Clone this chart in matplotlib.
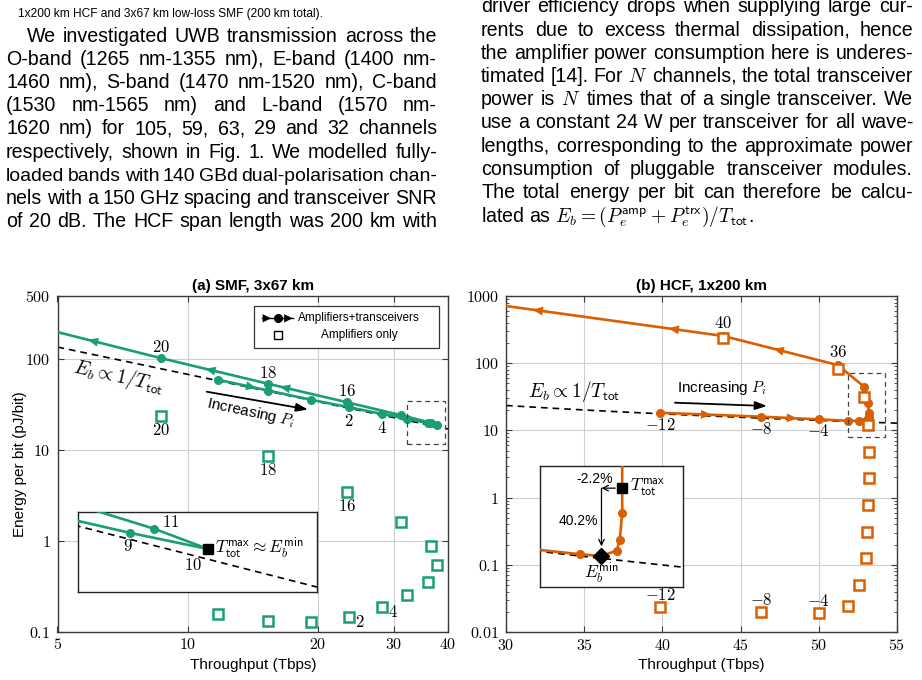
import numpy as np
import matplotlib
matplotlib.use('Agg')
import matplotlib.pyplot as plt
from matplotlib.patches import Rectangle
from matplotlib.ticker import FixedLocator, NullLocator, NullFormatter, FuncFormatter, LogLocator

plt.rcParams['font.family'] = ['Liberation Sans', 'DejaVu Sans']
plt.rcParams['mathtext.fontset'] = 'cm'

W, H = 922, 680

green = '#1b9e77'
orange = '#d95f02'
gridc = '#cfcfcf'
axc = '#3a3a3a'

# ---------------- data ----------------
# (a) SMF, 3x67 km : launch power P_i (dBm), throughput (Tbps), energy per bit (pJ/bit)
smf_p = [-4, -2, 0, 2, 4, 6, 8, 10, 12, 14, 16, 18, 20]
smf_t = [11.75, 15.34, 19.3, 23.6, 28.1, 32.2, 35.9, 37.8, 36.5, 31.2, 23.35, 15.34, 8.66]
smf_e_total = [59.7, 45.4, 35.9, 29.7, 25.1, 22.2, 19.8, 19.0, 20.0, 24.2, 33.7, 53.9, 103.4]
smf_e_amp = [0.155, 0.1305, 0.128, 0.146, 0.187, 0.251, 0.355, 0.539, 0.881, 1.63, 3.48, 8.55, 23.6]
smf_t_edge, smf_e_edge = 5.0, 200.0      # curve leaves the plot here
smf_fit = 684                              # E_b = c / T_tot guide

# (b) HCF, 1x200 km
hcf_p = [-12, -8, -4, 0, 4, 8, 12, 16, 20, 24, 28, 32, 36, 40]
hcf_t = [39.85, 46.3, 50.0, 51.85, 52.6, 53.0, 53.1, 53.17, 53.2, 53.2, 53.15, 52.9, 51.2, 43.9]
hcf_e_total = [18.3, 16.0, 14.6, 13.9, 13.9, 13.9, 14.1, 14.6, 16.0, 18.3, 25.8, 44.7, 94.0, 254.0]
hcf_e_amp = [0.0233, 0.0200, 0.0189, 0.0246, 0.050, 0.125, 0.305, 0.776, 1.94, 4.82, 12.0, 31.1, 81.0, 237.0]
hcf_t_edge, hcf_e_edge = 30.0, 710.0
hcf_fit = 705

# point labels
smf_dot_above = [16, 18, 20]
smf_dot_below = [2, 4]
smf_sq_below = [16, 18, 20]
smf_sq_right = [2, 4]
hcf_dot_above = [36, 40]
hcf_dot_below = [-12, -8, -4]
hcf_sq_above = [-12, -8, -4]

# zoomed views
smf_box_x, smf_box_y = (32.1, 39.3), (11.8, 34.4)
smf_zoom_x, smf_zoom_y = (32.28, 43.13), (15.49, 22.66)
smf_zoom_low_t = [32.0, 34.38, 37.8]      # P_i = 8, 9, 10
smf_zoom_low_e = [21.89, 20.52, 19.0]
smf_zoom_up_t = [37.8, 35.41, 32.0]       # P_i = 10, 11, 12
smf_zoom_up_e = [19.0, 20.92, 23.65]

hcf_box_x, hcf_box_y = (51.89, 54.23), (8.06, 70.8)
hcf_zoom_x, hcf_zoom_y = (50.82, 54.96), (11.62, 21.24)
hcf_zoom_t = [50.5, 51.98, 52.60, 53.04, 53.13, 53.20, 53.20, 53.20]
hcf_zoom_e = [14.06, 13.68, 13.56, 13.93, 14.69, 16.84, 19.02, 23.0]
hcf_zoom_dots = [1, 3, 4, 5]
hcf_zoom_emin = 2
hcf_zoom_tmax = 6

left_lines = [
    "We investigated UWB transmission across the",
    "O-band (1265 nm-1355 nm), E-band (1400 nm-",
    "1460 nm), S-band (1470 nm-1520 nm), C-band",
    "(1530 nm-1565 nm) and L-band (1570 nm-",
    "1620 nm) for 105, 59, 63, 29 and 32 channels",
    "respectively, shown in Fig. 1. We modelled fully-",
    "loaded bands with 140 GBd dual-polarisation chan-",
    "nels with a 150 GHz spacing and transceiver SNR",
    "of 20 dB. The HCF span length was 200 km with",
]
right_lines = [
    "driver efficiency drops when supplying large cur-",
    "rents due to excess thermal dissipation, hence",
    "the amplifier power consumption here is underes-",
    "timated [14]. For $N$ channels, the total transceiver",
    "power is $N$ times that of a single transceiver. We",
    "use a constant 24 W per transceiver for all wave-",
    "lengths, corresponding to the approximate power",
    "consumption of pluggable transceiver modules.",
    "The total energy per bit can therefore be calcu-",
    r"lated as $E_b = (P_e^{\mathsf{amp}} + P_e^{\mathsf{trx}})/T_{\mathsf{tot}}$.",
]
caption = "1x200 km HCF and 3x67 km low-loss SMF (200 km total)."

# ---------------- figure ----------------
fig = plt.figure(figsize=(W / 100, H / 100), dpi=100)
renderer = fig.canvas.get_renderer()


def px_axes(x0, y0, x1, y1, **kw):
    return fig.add_axes([x0 / W, 1 - y1 / H, (x1 - x0) / W, (y1 - y0) / H], **kw)


def fp(x, y):
    return (x / W, 1 - y / H)


def to_axes(ax, x, y):
    return ax.transAxes.inverted().transform((x, H - y))


def style(ax):
    ax.set_axisbelow(True)
    ax.grid(True, which='major', color=gridc, lw=0.8)
    for s in ax.spines.values():
        s.set_color(axc)
        s.set_linewidth(1.0)
    ax.tick_params(which='both', direction='in', top=True, right=True, color=axc, labelsize=11.5)
    ax.tick_params(which='major', length=4)
    ax.tick_params(which='minor', length=2.5)
    ax.tick_params(axis='x', pad=4)
    ax.tick_params(axis='y', pad=5)
    fmt = FuncFormatter(lambda v, p: f'${v:g}$')
    ax.xaxis.set_major_formatter(fmt)
    ax.yaxis.set_major_formatter(fmt)
    ax.set_xlabel('Throughput (Tbps)', fontsize=11, labelpad=4)


def bare(ax):
    for a in (ax.xaxis, ax.yaxis):
        a.set_major_locator(NullLocator())
        a.set_minor_locator(NullLocator())
    for s in ax.spines.values():
        s.set_color('#222222')
        s.set_linewidth(1.0)


def flow_arrow(ax, xa, ya, xb, yb, frac, color):
    pa = ax.transData.transform((xa, ya))
    pb = ax.transData.transform((xb, yb))
    d = pb - pa
    d = d / np.hypot(*d)
    p = pa + frac * (pb - pa)
    inv = ax.transData.inverted()
    ax.annotate('', xy=inv.transform(p + 5 * d), xytext=inv.transform(p - 5 * d),
                arrowprops=dict(arrowstyle='-|>,head_length=0.75,head_width=0.32', color=color,
                                lw=0.01, shrinkA=0, shrinkB=0), zorder=4)


def tag(ax, x, y, s, dx, dy, size=12, **kw):
    kw.setdefault('ha', 'center')
    ax.annotate(s, (x, y), xytext=(dx, dy), textcoords='offset pixels', va='center',
                fontsize=size, zorder=5, **kw)


def num(v):
    return f'${v}$'


# ---------- (a) SMF ----------
ax1 = px_axes(57.5, 296, 448, 631.5)
ax1.set_xscale('log')
ax1.set_yscale('log')
ax1.set_xlim(5, 40)
ax1.set_ylim(0.1, 500)
ax1.xaxis.set_major_locator(FixedLocator([5, 10, 20, 30, 40]))
ax1.yaxis.set_major_locator(FixedLocator([0.1, 1, 10, 100, 500]))
for a in (ax1.xaxis, ax1.yaxis):
    a.set_minor_locator(NullLocator())
style(ax1)
ax1.set_ylabel('Energy per bit (pJ/bit)', fontsize=11, labelpad=-1)
ax1.set_title('(a) SMF, 3x67 km', fontsize=11, fontweight='bold', pad=4)

ax1.plot([5, 40], [smf_fit / 5, smf_fit / 40], color='black', lw=1.2, ls=(0, (4, 3)), zorder=2)
ax1.plot(smf_t + [smf_t_edge], smf_e_total + [smf_e_edge], color=green, lw=1.9, marker='o', ms=5.5,
         markevery=list(range(len(smf_t))), zorder=3)
ax1.plot(smf_t, smf_e_amp, ls='none', marker='s', ms=6.5, mfc='white', mec=green, mew=1.8, zorder=3)

bx, by = smf_box_x, smf_box_y
ax1.plot([bx[0], bx[1], bx[1], bx[0], bx[0]], [by[0], by[0], by[1], by[1], by[0]],
         color='#444444', lw=0.9, ls=(0, (4, 3)), zorder=4)

ct = smf_t + [smf_t_edge]
ce = smf_e_total + [smf_e_edge]
for i, f in [(0, 0.67), (10, 0.79), (11, 0.54), (12, 0.66)]:
    flow_arrow(ax1, ct[i], ce[i], ct[i + 1], ce[i + 1], f, green)

for p in smf_dot_above:
    i = smf_p.index(p)
    tag(ax1, smf_t[i], smf_e_total[i], num(p), 0, 11)
for p in smf_dot_below:
    i = smf_p.index(p)
    tag(ax1, smf_t[i], smf_e_total[i], num(p), 0, -14)
for p in smf_sq_below:
    i = smf_p.index(p)
    tag(ax1, smf_t[i], smf_e_amp[i], num(p), 0, -14)
for p in smf_sq_right:
    i = smf_p.index(p)
    tag(ax1, smf_t[i], smf_e_amp[i], num(p), 11, -5)

fig.text(*fp(119, 377), r'$E_b \propto 1/T_{\mathsf{tot}}$', fontsize=14, rotation=-12.5,
         ha='center', va='center', rotation_mode='anchor')
fig.text(*fp(251, 413), r'Increasing $P_i$', fontsize=11, rotation=-12,
         ha='center', va='center', rotation_mode='anchor')
ax1.annotate('', xy=fp(308, 409.5), xytext=fp(206.7, 391.7), xycoords='figure fraction',
             arrowprops=dict(arrowstyle='-|>,head_length=0.7,head_width=0.25', color='black', lw=1.3,
                             shrinkA=0, shrinkB=0))

# legend
lx0, ly0 = to_axes(ax1, 254, 348.3)
lx1, ly1 = to_axes(ax1, 439.3, 306)
ax1.add_patch(Rectangle((lx0, ly0), lx1 - lx0, ly1 - ly0, transform=ax1.transAxes,
                        fc='white', ec='#333333', lw=0.9, zorder=6))
sx0, sy = to_axes(ax1, 261.7, 318.3)
sx1, _ = to_axes(ax1, 293.3, 318.3)
sxm, _ = to_axes(ax1, 277.5, 318.3)
ax1.plot([sx0, sx1], [sy, sy], color='black', lw=1.0, transform=ax1.transAxes, zorder=7)
ax1.plot([sxm], [sy], marker='o', color='black', ms=5.5, transform=ax1.transAxes, zorder=7)
for xa in (268, 289.5):
    ax1.annotate('', xy=to_axes(ax1, xa + 3, 318.3), xytext=to_axes(ax1, xa - 3, 318.3),
                 xycoords='axes fraction',
                 arrowprops=dict(arrowstyle='-|>,head_length=0.6,head_width=0.3', color='black',
                                 lw=0.01, shrinkA=0, shrinkB=0), zorder=8)
qx, qy = to_axes(ax1, 278.3, 335)
ax1.plot([qx], [qy], marker='s', ms=6, mfc='white', mec='black', mew=1.0, transform=ax1.transAxes, zorder=7)
tx, ty1 = to_axes(ax1, 359, 318.3)
_, ty2 = to_axes(ax1, 359, 335)
ax1.text(tx, ty1, 'Amplifiers+transceivers', fontsize=8.5, ha='center', va='center',
         transform=ax1.transAxes, zorder=8)
ax1.text(tx, ty2, 'Amplifiers only', fontsize=8.5, ha='center', va='center',
         transform=ax1.transAxes, zorder=8)

# inset (a)
in1 = px_axes(78, 512, 317, 592, zorder=5)
in1.set_xscale('log')
in1.set_yscale('log')
in1.set_xlim(*smf_zoom_x)
in1.set_ylim(*smf_zoom_y)
bare(in1)
in1.plot([30, 45], [smf_fit / 30, smf_fit / 45], color='black', lw=1.2, ls=(0, (4, 3)), zorder=4)
in1.plot(smf_zoom_low_t, smf_zoom_low_e, color=green, lw=1.9, zorder=3)
in1.plot(smf_zoom_up_t, smf_zoom_up_e, color=green, lw=1.9, zorder=3)
in1.plot([smf_zoom_low_t[1], smf_zoom_up_t[1]], [smf_zoom_low_e[1], smf_zoom_up_e[1]], ls='none',
         marker='o', ms=5.5, color=green, zorder=3)
in1.plot([smf_zoom_low_t[2]], [smf_zoom_low_e[2]], marker='s', ms=7.5, color='black', zorder=5)
tag(in1, smf_zoom_up_t[1], smf_zoom_up_e[1], num(11), 16, 7)
tag(in1, smf_zoom_low_t[1], smf_zoom_low_e[1], num(9), -2, -13)
tag(in1, smf_zoom_low_t[2], smf_zoom_low_e[2], num(10), -15, -16)
tag(in1, smf_zoom_low_t[2], smf_zoom_low_e[2],
    r'$T_{\mathsf{tot}}^{\mathsf{max}} \approx E_b^{\mathsf{min}}$', 7, 1, size=12.5, ha='left')

# ---------- (b) HCF ----------
ax2 = px_axes(506, 296, 897, 632)
ax2.set_yscale('log')
ax2.set_xlim(30, 55)
ax2.set_ylim(0.01, 1000)
ax2.xaxis.set_major_locator(FixedLocator([30, 35, 40, 45, 50, 55]))
ax2.xaxis.set_minor_locator(NullLocator())
ax2.yaxis.set_major_locator(FixedLocator([0.01, 0.1, 1, 10, 100, 1000]))
ax2.yaxis.set_minor_locator(LogLocator(base=10, subs=np.arange(2, 10)))
ax2.yaxis.set_minor_formatter(NullFormatter())
style(ax2)
ax2.set_title('(b) HCF, 1x200 km', fontsize=11, fontweight='bold', pad=4)

tt = np.linspace(30, 55, 60)
ax2.plot(tt, hcf_fit / tt, color='black', lw=1.2, ls=(0, (4, 3)), zorder=2)
ax2.plot(hcf_t + [hcf_t_edge], hcf_e_total + [hcf_e_edge], color=orange, lw=1.9, marker='o', ms=5.5,
         markevery=list(range(len(hcf_t))), zorder=3)
ax2.plot(hcf_t, hcf_e_amp, ls='none', marker='s', ms=6.5, mfc='white', mec=orange, mew=1.8, zorder=3)

bx, by = hcf_box_x, hcf_box_y
ax2.plot([bx[0], bx[1], bx[1], bx[0], bx[0]], [by[0], by[0], by[1], by[1], by[0]],
         color='#444444', lw=0.9, ls=(0, (4, 3)), zorder=4)

ct = hcf_t + [hcf_t_edge]
ce = hcf_e_total + [hcf_e_edge]
for i, f in [(0, 0.46), (1, 0.54), (12, 0.52), (13, 0.23), (13, 0.855)]:
    flow_arrow(ax2, ct[i], ce[i], ct[i + 1], ce[i + 1], f, orange)

for p in hcf_dot_above:
    i = hcf_p.index(p)
    tag(ax2, hcf_t[i], hcf_e_total[i], num(p), 0, 13)
for p in hcf_dot_below:
    i = hcf_p.index(p)
    tag(ax2, hcf_t[i], hcf_e_total[i], num(p), 0, -12)
for p in hcf_sq_above:
    i = hcf_p.index(p)
    tag(ax2, hcf_t[i], hcf_e_amp[i], num(p), 0, 12)

fig.text(*fp(528, 391.7), r'$E_b \propto 1/T_{\mathsf{tot}}$', fontsize=14, ha='left', va='center')
fig.text(*fp(722, 388.3), r'Increasing $P_i$', fontsize=11, ha='center', va='center')
ax2.annotate('', xy=fp(767, 406), xytext=fp(675, 402.7), xycoords='figure fraction',
             arrowprops=dict(arrowstyle='-|>,head_length=0.7,head_width=0.25', color='black', lw=1.3,
                             shrinkA=0, shrinkB=0))

# inset (b)
in2 = px_axes(540, 466, 683, 587, zorder=5)
in2.set_yscale('log')
in2.set_xlim(*hcf_zoom_x)
in2.set_ylim(*hcf_zoom_y)
bare(in2)
tt = np.linspace(50, 56, 30)
in2.plot(tt, hcf_fit / tt, color='black', lw=1.2, ls=(0, (4, 3)), zorder=2)
in2.plot(hcf_zoom_t, hcf_zoom_e, color=orange, lw=1.9, zorder=3)
in2.plot([hcf_zoom_t[i] for i in hcf_zoom_dots], [hcf_zoom_e[i] for i in hcf_zoom_dots], ls='none',
         marker='o', ms=5.5, color=orange, zorder=3)
te, ee = hcf_zoom_t[hcf_zoom_emin], hcf_zoom_e[hcf_zoom_emin]
tm, em = hcf_zoom_t[hcf_zoom_tmax], hcf_zoom_e[hcf_zoom_tmax]
in2.plot([te], [ee], marker='D', ms=8, color='black', zorder=5)
in2.plot([tm], [em], marker='s', ms=7.5, color='black', zorder=5)
in2.annotate('', xy=(te, em), xytext=(tm, em),
             arrowprops=dict(arrowstyle='->', color='black', lw=0.9, shrinkA=5, shrinkB=0), zorder=4)
in2.annotate('', xy=(te, ee), xytext=(te, em),
             arrowprops=dict(arrowstyle='->', color='black', lw=0.9, shrinkA=0, shrinkB=7), zorder=4)
tag(in2, te, em, '-2.2%', -7, 9, size=10)
tag(in2, te, em, '40.2%', -23, -33, size=10)
tag(in2, tm, em, r'$T_{\mathsf{tot}}^{\mathsf{max}}$', 8, 1, size=12.5, ha='left')
tag(in2, te, ee, r'$E_b^{\mathsf{min}}$', 0, -17, size=12.5)

# ---------- paper text ----------
body = 14.1
min_gap = 0.17 * body * 100 / 72


def paragraph(lines, x0, x1, y0, step, size, indent=0, ragged_last=False):
    for i, line in enumerate(lines):
        y = y0 + i * step
        xs = x0 + (indent if i == 0 else 0)
        if ragged_last and i == len(lines) - 1:
            fig.text(xs / W, 1 - y / H, line, fontsize=size, va='baseline')
            continue
        words = line.split(' ')
        arts = [fig.text(0, 1 - y / H, w, fontsize=size, va='baseline') for w in words]
        widths = [a.get_window_extent(renderer).width for a in arts]
        gap = (x1 - xs - sum(widths)) / (len(words) - 1)
        if gap < min_gap:
            # squeeze an over-full line a little, like TeX would
            f = (x1 - xs - (len(words) - 1) * min_gap) / sum(widths)
            for a in arts:
                a.set_fontsize(size * f)
            widths = [w * f for w in widths]
            gap = min_gap
        x = xs
        for a, w in zip(arts, widths):
            a.set_x(x / W)
            x += w + gap


fig.text(18 / W, 1 - 16.5 / H, caption, fontsize=8.6, va='baseline')
paragraph(left_lines, 6, 437, 41.5, 23.25, body, indent=21)
paragraph(right_lines, 481, 913, 12.25, 23.25, body, ragged_last=True)

fig.savefig('out.png', dpi=100)
